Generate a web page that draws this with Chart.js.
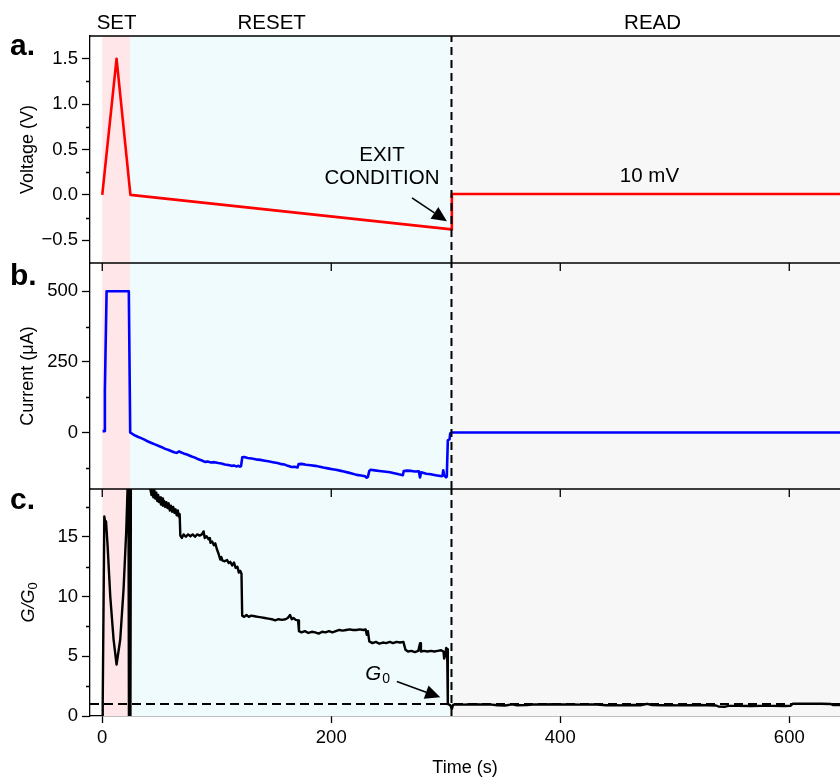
<!DOCTYPE html>
<html>
<head>
<meta charset="utf-8">
<script src="https://cdn.jsdelivr.net/npm/chart.js@4.4.1/dist/chart.umd.min.js"></script>
<style>
  body { margin: 0; background: #fff; }
  #wrap { position: relative; width: 840px; height: 779px; }
  #wrap canvas { position: absolute; left: 0; top: 0; }
</style>
</head>
<body>
<div id="wrap">
  <canvas id="voltage" width="840" height="779"></canvas>
  <canvas id="current" width="840" height="779"></canvas>
  <canvas id="ratio" width="840" height="779"></canvas>
</div>
<script>
// time window and protocol phases (s)
const timeRange = [-10.7, 644.3];
const timeTicks = [0, 200, 400, 600];
const phaseNames = ['SET', 'RESET', 'READ'];
const phaseEdges = [0, 24.5, 305, 644.3];
const phaseColors = ['#ffe7e9', '#effbfd', '#f7f7f7'];
const exitTime = 305;

// a. applied voltage, [t, V]
const voltage = [[0, 0], [12.5, 1.5], [24.6, 0], [305, -0.38], [305.3, 0.01], [644.3, 0.01]];
const vTicks = [-0.5, 0, 0.5, 1, 1.5];
const vMinor = [-0.25, 0.25, 0.75, 1.25];

// b. current, [t, µA]
const iSet = [[0.3, 5], [1.8, 5], [2.3, 150], [2.8, 270], [3.8, 500], [23.2, 500], [24.4, 0]];
const iReset = [[28, -9], [31, -15], [34, -20], [37.3, -26], [40, -32], [43, -37], [46, -42], [48.9, -47],
  [52, -52], [55, -58], [58, -62], [61, -67], [63.5, -71], [65, -72], [67.2, -67], [68.5, -70],
  [71, -74], [74, -78], [78.1, -85], [81, -89], [84, -95], [87, -99], [89.7, -104], [92, -103],
  [95, -106], [98, -105], [101.3, -108], [104, -110], [107, -113], [110, -115], [113, -118], [115, -117],
  [117, -120], [119, -118], [120.3, -121], [121.2, -119], [122.3, -88], [124, -87], [127, -90], [130.5, -92],
  [134, -95], [138, -97], [142, -100], [145, -102], [149, -105], [153, -108], [156.7, -112], [159, -113],
  [162, -118], [165.4, -122], [168, -121], [170.5, -124], [171.5, -112], [174, -111], [178, -114], [182, -116],
  [186, -118], [190, -121], [193, -124], [197, -127], [201, -130], [204, -132], [207.6, -135], [211, -138],
  [215, -142], [218, -145], [222.2, -150], [226, -152], [229.5, -155], [230.9, -160], [232, -157], [233.2, -136],
  [234.4, -132], [238, -134], [242, -136], [246, -138], [251.3, -141], [255, -144], [259, -148], [262.5, -151],
  [263.3, -136], [266, -135], [270, -136], [273, -138], [276.5, -137], [277.5, -159], [278.5, -141], [283, -146],
  [287, -148], [291, -151], [294, -153], [296.4, -155], [297.2, -152], [297.8, -134], [298.6, -152], [300.2, -159],
  [300.9, -156], [301.8, -28], [303.3, -24], [303.9, -3]];
const iRead = [[305, 0], [644.3, 0]];
const iTicks = [0, 250, 500];
const iMinor = [-125, 125, 375];

// c. conductance in units of G0, [t, G/G0]
const gSet = [[0, 0], [0.4, 1], [1.8, 16.7], [2.6, 16.2], [3.3, 16.3], [4.7, 14.2], [7, 10], [9.9, 6.4],
  [12.5, 4.3], [15.7, 6.4], [18.6, 10.6], [21, 15.6], [22.1, 19], [22.8, 24], [23.3, 0], [24.6, 0],
  [25.2, 30], [26.2, 30], [35, 30], [41, 19.6]];
const gReset = [[42, 19], [43, 18.5], [43.8, 19], [44.6, 18.3], [45.5, 18.9], [46.3, 18.2], [47.2, 18.7], [48, 18],
  [48.8, 18.5], [49.6, 17.9], [50.5, 18.3], [51.3, 17.7], [52.2, 18.2], [53, 17.6], [54, 18], [55, 17.5],
  [56, 17.9], [57, 17.4], [58, 17.8], [59, 17.2], [60, 17.6], [61, 17.1], [62, 17.5], [63, 17], [64, 17.3],
  [65, 16.8], [66, 17.2], [66.8, 16.7], [67.6, 16.9], [68.2, 15.1], [69.5, 14.9], [71, 15.2], [73, 15],
  [75, 15.2], [77, 15.05], [79, 15.2], [81, 15], [83, 15.2], [85, 15.1], [87, 15.2], [88.5, 15.45], [89.5, 14.9],
  [91, 15.05], [92.9, 14.8], [94, 14.9], [94.5, 14.5], [96, 14.6], [97.5, 14.3], [98.7, 14.45], [100, 14],
  [101.5, 13.6], [103, 13.1], [104, 13.3], [105, 13], [107, 12.95], [109, 13.05], [110.5, 12.8], [111.8, 12.9],
  [113.5, 12.6], [115, 12.85], [116.5, 12.4], [118, 12.5], [119.3, 12], [120.5, 12.15], [121.6, 11.9],
  [122.2, 8.4], [124, 8.3], [126, 8.45], [128, 8.3], [130, 8.4], [133, 8.35], [136, 8.3], [139, 8.25],
  [142, 8.2], [145, 8.15], [148, 8.1], [151, 8], [154, 8.1], [157, 8.05], [160, 8.1], [162, 8.2], [164, 8.45],
  [165.5, 8.1], [167, 8.2], [169, 8.05], [171, 8], [171.8, 7.1], [174, 7], [177, 7.1], [180, 6.95], [183, 7.05],
  [186, 7], [189, 6.9], [192, 7.05], [195, 7], [198, 7.1], [201, 7], [204, 7.1], [207, 7.2], [210, 7.15],
  [213, 7.2], [216, 7.25], [219, 7.2], [222, 7.2], [225, 7.25], [228, 7.2], [230, 7.25], [231, 6.8], [232, 7.1],
  [233.2, 6.25], [236, 6.1], [239, 6.2], [242, 6.05], [245, 6.15], [248, 6.1], [251, 6.2], [254, 6.1],
  [257, 6.2], [260, 6.15], [263, 6.2], [264.8, 5.55], [267, 5.4], [270, 5.45], [273, 5.35], [276, 5.45],
  [277.6, 6.1], [278.3, 5.4], [281, 5.45], [284, 5.4], [287, 5.45], [290, 5.4], [293, 5.45], [296, 5.5],
  [298, 5.4], [298.6, 4.8], [299.5, 5.1], [300.4, 5.7], [301.2, 5.6], [301.8, 1], [303, 0.95], [304, 0.9]];
const gRead = [[305.3, 0.6], [306.5, 0.95], [310, 0.97], [316, 0.95], [322, 0.98], [330, 0.96], [338, 0.97],
  [345, 0.9], [352, 0.88], [358, 0.97], [362, 0.9], [371, 0.92], [378, 0.97], [386, 0.96], [394, 0.98],
  [402, 0.96], [410, 0.97], [418, 0.95], [426, 0.97], [432, 0.96], [440, 0.9], [448, 0.91], [456, 0.89],
  [464, 0.92], [470, 0.9], [476, 1.02], [480, 0.92], [488, 0.9], [496, 0.91], [504, 0.89], [512, 0.9],
  [520, 0.92], [528, 0.9], [536, 0.88], [538, 0.8], [544, 0.78], [547, 0.85], [556, 0.85], [566, 0.84],
  [576, 0.85], [586, 0.85], [596, 0.84], [601, 0.85], [603, 1.02], [612, 1.03], [620, 1.02], [628, 1.03],
  [636, 1.01], [638, 0.92], [644.3, 0.92]];
const gTicks = [0, 5, 10, 15];
const gMinor = [2.5, 7.5, 12.5, 17.5];
const gQuantum = 1;

const FONT = '"Liberation Sans", Arial, Helvetica, sans-serif';
Chart.defaults.font.family = FONT;
Chart.defaults.color = '#000';

const pts = rows => rows.map(([t, v]) => ({ x: t, y: v }));

function arrow(ctx, x0, y0, x1, y1) {
  const ang = Math.atan2(y1 - y0, x1 - x0), len = 15, half = 7;
  const bx = x1 - len * Math.cos(ang), by = y1 - len * Math.sin(ang);
  ctx.lineWidth = 1.6;
  ctx.beginPath(); ctx.moveTo(x0, y0); ctx.lineTo(bx, by); ctx.stroke();
  ctx.beginPath();
  ctx.moveTo(x1, y1);
  ctx.lineTo(bx + half * Math.sin(ang), by - half * Math.cos(ang));
  ctx.lineTo(bx - half * Math.sin(ang), by + half * Math.cos(ang));
  ctx.closePath(); ctx.fill();
}

// phase shading, frame edge, minor ticks and annotations
const decor = {
  id: 'decor',
  beforeDatasetsDraw(chart) {
    const { ctx, chartArea: a, scales: { x } } = chart;
    ctx.save();
    phaseColors.forEach((c, i) => {
      const x0 = x.getPixelForValue(phaseEdges[i]);
      const x1 = x.getPixelForValue(phaseEdges[i + 1]);
      ctx.fillStyle = c;
      ctx.fillRect(x0, a.top, x1 - x0, a.bottom - a.top);
    });
    ctx.restore();
  },
  afterDraw(chart, args, o) {
    const { ctx, chartArea: a, scales: { x, y } } = chart;
    ctx.save();
    ctx.strokeStyle = '#000';
    ctx.fillStyle = '#000';
    ctx.lineWidth = 1.3;
    ctx.beginPath();
    ctx.moveTo(a.left, a.top);
    ctx.lineTo(a.right, a.top);
    if (o.topTicks) {
      timeTicks.forEach(v => {
        const px = x.getPixelForValue(v);
        ctx.moveTo(px, a.top);
        ctx.lineTo(px, a.top + 8);
      });
    }
    o.minor.forEach(v => {
      const py = Math.round(y.getPixelForValue(v)) + 0.5;
      ctx.moveTo(a.left - 4, py);
      ctx.lineTo(a.left, py);
    });
    ctx.stroke();

    ctx.font = 'bold 30px ' + FONT;
    ctx.textAlign = 'left';
    ctx.textBaseline = 'alphabetic';
    ctx.fillText(o.letter, 10, o.letterY);

    ctx.font = '20.5px ' + FONT;
    if (o.phaseAt) {
      ctx.textAlign = 'center';
      phaseNames.forEach((n, i) => ctx.fillText(n, x.getPixelForValue(o.phaseAt[i]), 28.5));
    }
    ctx.textBaseline = 'middle';
    (o.notes || []).forEach(n => {
      ctx.textAlign = 'center';
      ctx.fillText(n.text, x.getPixelForValue(n.x), y.getPixelForValue(n.y));
    });
    (o.arrows || []).forEach(r => arrow(ctx,
      x.getPixelForValue(r.from[0]), y.getPixelForValue(r.from[1]),
      x.getPixelForValue(r.to[0]), y.getPixelForValue(r.to[1])));

    if (o.quantum) {
      // G0 label next to its arrow
      const gx = x.getPixelForValue(o.quantum.x), gy = y.getPixelForValue(o.quantum.y);
      ctx.textAlign = 'left';
      ctx.font = 'italic 20.5px ' + FONT;
      ctx.fillText('G', gx, gy);
      const w = ctx.measureText('G').width;
      ctx.font = '14px ' + FONT;
      ctx.fillText('0', gx + w + 1, gy + 5);

      // rotated axis title G/G0
      ctx.translate(28.5, (a.top + a.bottom) / 2);
      ctx.rotate(-Math.PI / 2);
      ctx.font = 'italic 18px ' + FONT;
      const w1 = ctx.measureText('G/G').width;
      ctx.font = '13px ' + FONT;
      const w2 = ctx.measureText('0').width;
      ctx.font = 'italic 18px ' + FONT;
      ctx.fillText('G/G', -(w1 + w2) / 2, 0);
      ctx.font = '13px ' + FONT;
      ctx.fillText('0', -(w1 + w2) / 2 + w1, 5);
    }
    ctx.restore();
  }
};

const dashed = (rows, dash) => ({
  data: pts(rows), borderColor: '#000', borderWidth: 2, borderDash: dash
});

function panel(id, p) {
  return new Chart(document.getElementById(id), {
    type: 'line',
    data: { datasets: p.datasets },
    options: {
      responsive: false,
      animation: false,
      events: [],
      layout: { padding: { top: p.top, bottom: p.bottom, left: 0, right: 0 } },
      elements: {
        point: { radius: 0 },
        line: { tension: 0, borderJoinStyle: 'round' }
      },
      plugins: { legend: { display: false }, tooltip: { enabled: false }, decor: p.decor },
      scales: {
        x: {
          type: 'linear',
          min: timeRange[0],
          max: timeRange[1],
          display: !!p.showTime,
          afterBuildTicks: s => { s.ticks = timeTicks.map(v => ({ value: v })); },
          afterFit: s => { s.height = p.showTime ? 63 : 0; },
          grid: { drawOnChartArea: false, tickLength: 7, tickColor: '#000', tickWidth: 1.3 },
          border: { color: '#000', width: 1.3 },
          ticks: { color: '#000', font: { size: 18.5 }, padding: 4, maxRotation: 0, autoSkip: false },
          title: { display: true, text: 'Time (s)', color: '#000', font: { size: 18 }, padding: 0 }
        },
        y: {
          type: 'linear',
          min: p.range[0],
          max: p.range[1],
          afterBuildTicks: s => { s.ticks = p.ticks.map(v => ({ value: v })); },
          afterFit: s => { s.width = 90; },
          grid: { drawOnChartArea: false, tickLength: 8, tickColor: '#000', tickWidth: 1.3 },
          border: { color: '#000', width: 1.3 },
          ticks: { color: '#000', font: { size: 18.5 }, padding: 4, autoSkip: false, callback: p.fmt },
          title: {
            display: !!p.title, text: p.title, color: '#000',
            font: { size: 18 }, padding: { top: 17, bottom: 0 }
          }
        }
      }
    },
    plugins: [decor]
  });
}

const vRange = [-0.75, 1.75];
panel('voltage', {
  top: 36, bottom: 779 - 263,
  range: vRange, ticks: vTicks, title: 'Voltage (V)',
  fmt: v => (v < 0 ? '\u2212' : '') + Math.abs(v).toFixed(1),
  datasets: [
    dashed([[exitTime, vRange[0]], [exitTime, vRange[1]]], [8, 5]),
    { data: pts(voltage), borderColor: '#ff0000', borderWidth: 2.6 }
  ],
  decor: {
    letter: 'a.', letterY: 55, minor: vMinor,
    phaseAt: [12.5, 148, 480.6],
    notes: [
      { text: 'EXIT', x: 244.3, y: 0.435 },
      { text: 'CONDITION', x: 244.3, y: 0.178 },
      { text: '10 mV', x: 477.9, y: 0.205 }
    ],
    arrows: [{ from: [270.5, -0.033], to: [301, -0.29] }]
  }
});

const iRange = [-200, 600];
panel('current', {
  top: 263, bottom: 779 - 489,
  range: iRange, ticks: iTicks, title: 'Current (\u03bcA)',
  fmt: v => String(v),
  datasets: [
    dashed([[exitTime, iRange[0]], [exitTime, iRange[1]]], [8, 5]),
    { data: pts([...iSet, ...iReset, ...iRead]), borderColor: '#0000ff', borderWidth: 2.6 }
  ],
  decor: { letter: 'b.', letterY: 285, minor: iMinor, topTicks: true }
});

const gRange = [0, 19];
panel('ratio', {
  top: 489, bottom: 0, showTime: true,
  range: gRange, ticks: gTicks, title: '',
  fmt: v => String(v),
  datasets: [
    { data: pts([...gSet, ...gReset, ...gRead]), borderColor: '#000', borderWidth: 2.4 },
    dashed([[exitTime, gRange[0]], [exitTime, gRange[1]]], [8, 5]),
    dashed([[timeRange[0], gQuantum], [timeRange[1], gQuantum]], [9, 5])
  ],
  decor: {
    letter: 'c.', letterY: 509, minor: gMinor, topTicks: true,
    quantum: { x: 229.7, y: 3.49 },
    arrows: [{ from: [257.3, 2.88], to: [295.2, 1.57] }]
  }
});
</script>
</body>
</html>
